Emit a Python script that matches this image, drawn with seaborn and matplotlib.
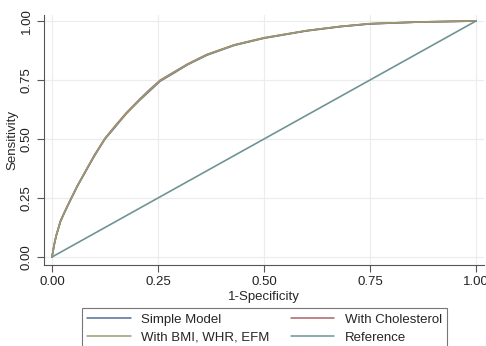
import numpy as np
import pandas as pd
import seaborn as sns
import matplotlib.pyplot as plt

# ROC curves
fpr_simple = [0.0, 0.005, 0.01, 0.02, 0.03, 0.046, 0.06, 0.08, 0.1, 0.125, 0.15, 0.175, 0.207, 0.23, 0.255, 0.286, 0.32, 0.365, 0.43, 0.5, 0.6, 0.68, 0.75, 0.87, 1.0]
tpr_simple = [0.0, 0.05, 0.09, 0.15, 0.19, 0.25, 0.30, 0.365, 0.428, 0.50, 0.553, 0.608, 0.665, 0.703, 0.745, 0.778, 0.815, 0.855, 0.897, 0.927, 0.958, 0.976, 0.988, 0.996, 1.0]

fpr_chol = [0.0, 0.005, 0.01, 0.02, 0.03, 0.046, 0.06, 0.08, 0.1, 0.125, 0.15, 0.175, 0.207, 0.23, 0.255, 0.286, 0.32, 0.365, 0.43, 0.5, 0.6, 0.68, 0.75, 0.87, 1.0]
tpr_chol = [0.0, 0.052, 0.092, 0.153, 0.193, 0.252, 0.303, 0.366, 0.432, 0.503, 0.558, 0.61, 0.669, 0.709, 0.749, 0.782, 0.818, 0.858, 0.899, 0.929, 0.959, 0.977, 0.988, 0.996, 1.0]

fpr_bmi = [0.0, 0.005, 0.01, 0.02, 0.03, 0.046, 0.06, 0.08, 0.1, 0.125, 0.15, 0.175, 0.207, 0.23, 0.255, 0.286, 0.32, 0.365, 0.43, 0.5, 0.6, 0.68, 0.75, 0.87, 1.0]
tpr_bmi = [0.0, 0.051, 0.091, 0.152, 0.191, 0.251, 0.302, 0.368, 0.43, 0.501, 0.556, 0.606, 0.667, 0.706, 0.747, 0.781, 0.816, 0.857, 0.898, 0.928, 0.959, 0.977, 0.989, 0.996, 1.0]

fpr_ref = [0.0, 1.0]
tpr_ref = [0.0, 1.0]

labels = ["Simple Model", "With Cholesterol", "With BMI, WHR, EFM", "Reference"]
palette = {"Simple Model": "#4f6f8f", "With Cholesterol": "#a86468",
           "With BMI, WHR, EFM": "#9a9a72", "Reference": "#6f9494"}
ticks = [0.0, 0.25, 0.5, 0.75, 1.0]
tick_labels = ["0.00", "0.25", "0.50", "0.75", "1.00"]

parts = []
for lab, fx, ty in zip(labels,
                       [fpr_simple, fpr_chol, fpr_bmi, fpr_ref],
                       [tpr_simple, tpr_chol, tpr_bmi, tpr_ref]):
    parts.append(pd.DataFrame({"fpr": fx, "tpr": ty, "model": lab}))
df = pd.concat(parts, ignore_index=True)

sns.set_style("white")
plt.rcParams['font.family'] = ['Liberation Sans', 'DejaVu Sans']

fig = plt.figure(figsize=(4.86, 3.46), dpi=100)
ax = fig.add_axes([44 / 486, 81 / 346, 440 / 486, 250 / 346])

sns.lineplot(data=df, x="fpr", y="tpr", hue="model", hue_order=labels,
             palette=palette, linewidth=1.2, sort=False, estimator=None,
             legend=False, ax=ax)

ax.set_xlim(-8 / 424, 1 + 8 / 424)
ax.set_ylim(-8 / 236, 1 + 6 / 236)
ax.set_xticks(ticks)
ax.set_xticklabels(tick_labels)
ax.set_yticks(ticks)
ax.set_yticklabels(tick_labels, rotation=90, va='center')
ax.tick_params(axis='both', labelsize=9.5, length=5, width=0.8, color='#555555',
               labelcolor='#222222', direction='out', pad=3)
ax.tick_params(left=True, bottom=True)
ax.grid(True, color='#ececec', linewidth=0.8)
for s in ['top', 'right']:
    ax.spines[s].set_visible(False)
for s in ['left', 'bottom']:
    ax.spines[s].set_color('#555555')
    ax.spines[s].set_linewidth(0.8)
ax.set_xlabel("1-Specificity", fontsize=9.5, labelpad=2)
ax.set_ylabel("Sensitivity", fontsize=9.5, labelpad=2)

handles = [plt.Line2D([], [], color=palette[l], lw=1.1) for l in labels]
order = [0, 2, 1, 3]
leg = fig.legend([handles[i] for i in order], [labels[i] for i in order],
                 ncol=2, loc='upper left', mode='expand',
                 bbox_to_anchor=(82 / 486, 38 / 346 - 0.3, 365 / 486, 0.3),
                 fontsize=9.5, frameon=True, fancybox=False, handlelength=3.3,
                 handletextpad=0.8, borderpad=0.4, labelspacing=0.45,
                 borderaxespad=0)
leg.get_frame().set_edgecolor('#555555')
leg.get_frame().set_linewidth(0.8)

plt.savefig("out.png", dpi=100)
plt.close()
